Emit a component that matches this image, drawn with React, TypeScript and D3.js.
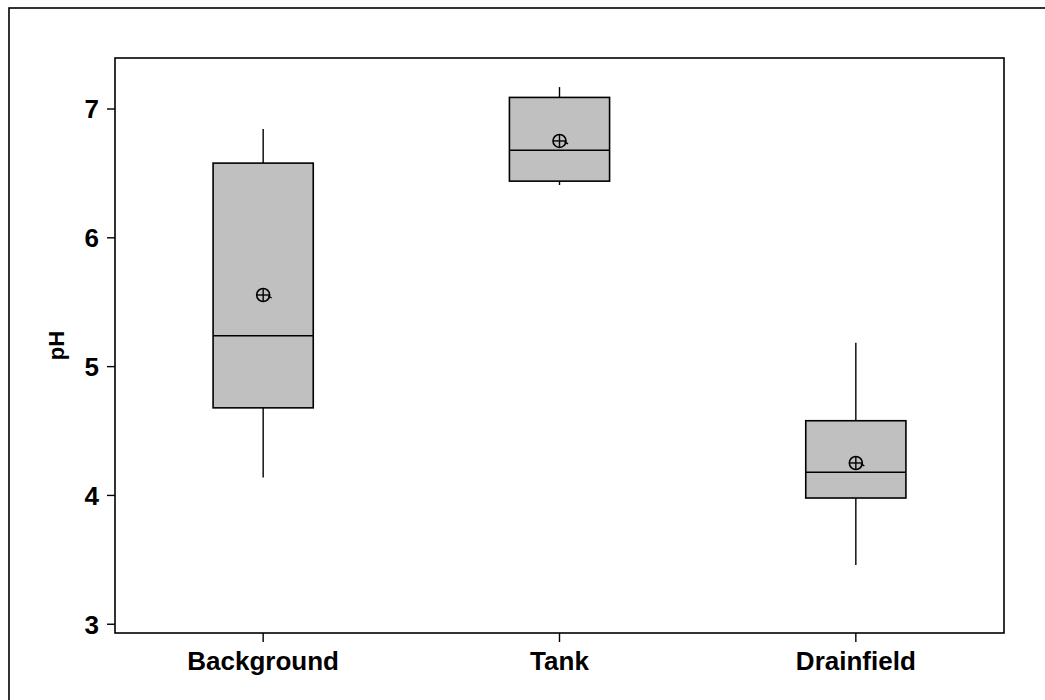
import React from 'react';
import * as d3 from 'd3';

// pH by site
const categories = ['Background', 'Tank', 'Drainfield'];
const whiskerLow = [4.14, 6.41, 3.46];
const q1 = [4.68, 6.44, 3.98];
const medians = [5.24, 6.68, 4.18];
const q3 = [6.58, 7.09, 4.58];
const whiskerHigh = [6.845, 7.17, 5.185];
const means = [5.556, 6.752, 4.252];
const yTicks = [3, 4, 5, 6, 7];

const W = 1045;
const H = 700;
const margin = { left: 115, top: 58, right: 1004, bottom: 633 };
const font = '"Liberation Sans", Arial, sans-serif';

export default function App() {
  const x = d3.scalePoint<string>()
    .domain(categories)
    .range([margin.left, margin.right])
    .padding(0.5);
  const y = d3.scaleLinear().domain([2.932, 7.396]).range([margin.bottom, margin.top]);
  const boxW = x.step() * 0.338;

  return (
    <svg width={W} height={H} style={{ position: 'fixed', left: 0, top: 0, background: '#fff' }}>
      {/* outer frame, runs off the page right and bottom */}
      <rect x={9} y={8} width={1200} height={900} fill="none" stroke="#000" strokeWidth={1.6} />

      {/* boxes */}
      {categories.map((c, i) => {
        const cx = x(c)!;
        const my = y(means[i]);
        return (
          <g key={c} stroke="#000" strokeWidth={1.4}>
            <line x1={cx} x2={cx} y1={y(whiskerHigh[i])} y2={y(q3[i])} />
            <line x1={cx} x2={cx} y1={y(q1[i])} y2={y(whiskerLow[i])} />
            <rect x={cx - boxW / 2} y={y(q3[i])} width={boxW} height={y(q1[i]) - y(q3[i])} fill="#c0c0c0" strokeWidth={1.6} />
            <line x1={cx - boxW / 2} x2={cx + boxW / 2} y1={y(medians[i])} y2={y(medians[i])} />
            <circle cx={cx} cy={my} r={6.5} fill="none" strokeWidth={1.6} />
            <line x1={cx - 6.5} x2={cx + 6.5} y1={my} y2={my} />
            <line x1={cx} x2={cx} y1={my - 6.5} y2={my + 6.5} />
            <line x1={cx + 5} x2={cx + 8.5} y1={my + 1} y2={my + 3} />
          </g>
        );
      })}

      {/* plot frame */}
      <rect x={margin.left} y={margin.top} width={margin.right - margin.left} height={margin.bottom - margin.top}
        fill="none" stroke="#000" strokeWidth={1.6} />

      {/* y axis */}
      {yTicks.map(t => (
        <g key={t}>
          <line x1={margin.left - 8} x2={margin.left} y1={y(t)} y2={y(t)} stroke="#000" strokeWidth={1.4} />
          <text x={margin.left - 16} y={y(t)} dy="0.36em" textAnchor="end" fontFamily={font} fontWeight="bold" fontSize={26}>{t}</text>
        </g>
      ))}
      <text transform={`translate(64,${(margin.top + margin.bottom) / 2}) rotate(-90)`} textAnchor="middle"
        fontFamily={font} fontWeight="bold" fontSize={22}>pH</text>

      {/* x axis */}
      {categories.map(c => (
        <g key={c}>
          <line x1={x(c)} x2={x(c)} y1={margin.bottom} y2={margin.bottom + 9} stroke="#000" strokeWidth={1.4} />
          <text x={x(c)} y={670} textAnchor="middle" fontFamily={font} fontWeight="bold" fontSize={26}>{c}</text>
        </g>
      ))}
    </svg>
  );
}
